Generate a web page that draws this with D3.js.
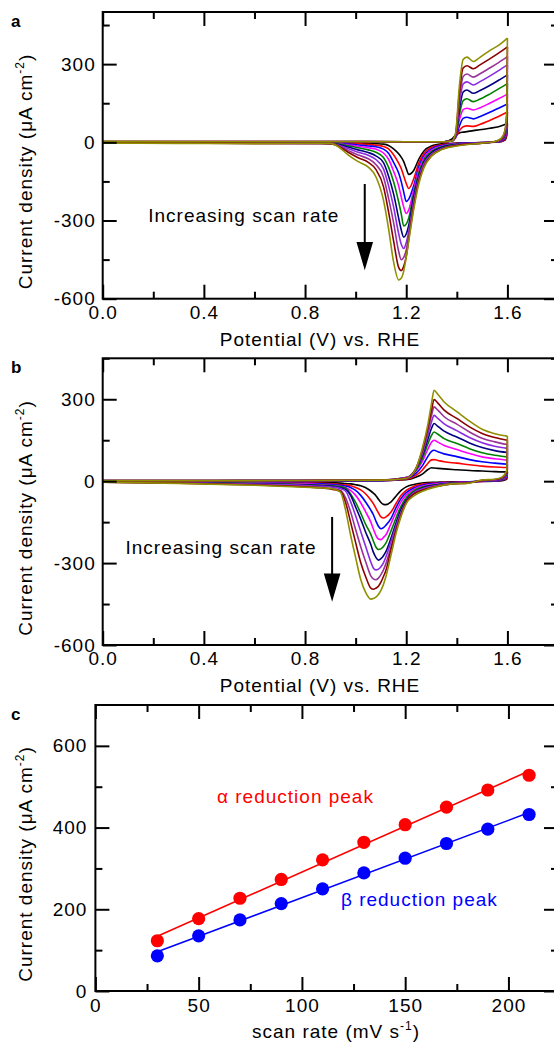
<!DOCTYPE html>
<html>
<head>
<meta charset="utf-8">
<script src="https://cdn.jsdelivr.net/npm/d3@7"></script>
<style>
  body { margin: 0; background: #fff; }
  svg { display: block; font-family: "Liberation Sans", Arial, sans-serif; }
</style>
</head>
<body>
<div id="chart"></div>
<script>
// ---- data ----
const scanRates = [30, 50, 70, 90, 110, 130, 150, 170, 190, 210]; // mV/s
const curveColors = ["#000000", "#ff0000", "#0000ff", "#ff00ff", "#008000",
  "#000080", "#8a2be2", "#993399", "#8b0000", "#8f8f00"];

// panel a : anodic sweep (0 -> 1.6 V)
const potA_anodic = [0.0, 0.3, 0.6, 0.9, 1.2, 1.35, 1.38, 1.395, 1.41, 1.425, 1.44, 1.465, 1.49, 1.53, 1.565, 1.60];
const curA_anodic = [
  [1, 1, 1, 1, 1, 2, 12, 28, 36, 39, 41, 45, 48, 54, 60, 72],
  [1, 1, 1, 1, 1, 2, 6, 18, 45, 60, 63, 61, 68, 84, 99, 116],
  [1, 1, 1, 1, 1, 2, 5, 18, 62, 92, 96, 90, 98, 115, 131, 147],
  [2, 2, 2, 2, 2, 2, 5, 20, 85, 125, 131, 124, 132, 150, 167, 185],
  [2, 2, 2, 2, 2, 2, 5, 22, 105, 160, 167, 156, 165, 185, 205, 225],
  [2, 2, 2, 2, 2, 2, 5, 24, 125, 193, 201, 188, 198, 218, 238, 259],
  [3, 3, 3, 3, 2, 2, 5, 26, 148, 224, 232, 220, 232, 254, 275, 297],
  [3, 3, 3, 3, 2, 2, 5, 28, 165, 252, 262, 250, 262, 285, 306, 329],
  [3, 3, 3, 3, 2, 2, 5, 30, 190, 285, 294, 282, 296, 320, 342, 366],
  [4, 3, 3, 3, 2, 2, 5, 35, 215, 318, 327, 310, 325, 352, 372, 400]
];
// panel a : cathodic sweep (1.6 -> 0 V)
const potA_cathodic = [1.60, 1.598, 1.59, 1.575, 1.55, 1.50, 1.40, 1.34, 1.30, 1.27, 1.25, 1.23, 1.21, 1.20,
  1.19, 1.18, 1.17, 1.15, 1.13, 1.11, 1.08, 1.05, 1.01, 0.97, 0.93, 0.90, 0.6, 0.3, 0.0];
const curA_cathodic = [
  [72, 30, 8, 2, 0, -1, -3, -6, -14, -33, -64, -107, -123, -100, -74, -57, -44, -25, -12, -7, -5, -4, -3, -3, -2, -2, -1, -1, -1],
  [116, 41, 12, 3, 0, -1, -4, -9, -19, -43, -79, -139, -177, -158, -129, -100, -80, -48, -25, -16, -11, -8, -6, -4, -3, -3, -2, -1, -1],
  [147, 52, 16, 4, 1, -1, -5, -12, -25, -52, -94, -165, -218, -227, -190, -150, -118, -77, -42, -26, -17, -14, -10, -7, -4, -3, -2, -2, -1],
  [185, 63, 20, 6, 1, -2, -6, -15, -30, -59, -105, -180, -259, -273, -248, -209, -167, -111, -65, -41, -26, -21, -15, -10, -5, -3, -2, -2, -2],
  [225, 74, 24, 7, 1, -2, -7, -17, -35, -67, -117, -196, -290, -314, -321, -273, -228, -151, -95, -58, -38, -29, -21, -13, -6, -4, -3, -2, -2],
  [259, 86, 29, 8, 2, -2, -9, -20, -40, -75, -126, -206, -318, -352, -364, -335, -291, -198, -129, -78, -52, -39, -29, -18, -8, -4, -3, -2, -2],
  [297, 97, 33, 10, 2, -2, -10, -24, -46, -82, -136, -224, -341, -385, -407, -390, -350, -248, -166, -102, -66, -50, -38, -24, -10, -5, -3, -3, -2],
  [329, 108, 37, 11, 2, -3, -11, -26, -48, -88, -144, -234, -357, -413, -441, -450, -418, -308, -214, -133, -85, -63, -49, -31, -12, -5, -4, -3, -3],
  [366, 119, 41, 13, 3, -3, -12, -27, -51, -93, -148, -245, -371, -438, -476, -492, -480, -378, -266, -170, -104, -77, -59, -38, -14, -5, -4, -3, -3],
  [400, 130, 45, 15, 3, -3, -14, -28, -53, -97, -158, -255, -378, -441, -494, -522, -528, -459, -330, -222, -132, -95, -74, -48, -16, -4, -5, -4, -3]
];

// panel b : anodic sweep
const potB_anodic = [0.0, 0.3, 0.6, 0.9, 1.1, 1.2, 1.24, 1.265, 1.285, 1.30, 1.31, 1.325, 1.35, 1.40, 1.45, 1.50, 1.55, 1.60];
const curB_anodic = [
  [1, 1, 1, 1, 2, 5, 15, 27, 42, 49, 48, 47, 45, 42, 39, 37, 35, 34],
  [1, 1, 1, 1, 2, 7, 22, 42, 65, 78, 79, 76, 71, 66, 60, 55, 52, 50],
  [1, 1, 1, 2, 2, 10, 30, 58, 90, 109, 113, 108, 100, 90, 79, 71, 66, 62],
  [1, 1, 2, 2, 3, 12, 38, 74, 116, 143, 150, 143, 131, 116, 101, 89, 82, 77],
  [1, 1, 2, 2, 3, 12, 42, 85, 135, 168, 180, 172, 156, 138, 119, 104, 95, 89],
  [2, 2, 2, 2, 3, 13, 46, 96, 152, 194, 211, 201, 183, 162, 140, 123, 112, 105],
  [2, 2, 2, 3, 3, 13, 48, 104, 168, 218, 241, 230, 210, 185, 160, 141, 128, 120],
  [2, 2, 2, 3, 4, 13, 50, 113, 183, 241, 272, 260, 236, 209, 180, 157, 144, 134],
  [2, 2, 2, 3, 4, 11, 50, 118, 193, 260, 299, 286, 260, 230, 199, 175, 160, 150],
  [2, 2, 2, 3, 4, 10, 50, 125, 205, 285, 333, 318, 290, 255, 220, 190, 174, 165]
];
// panel b : cathodic sweep
const potB_cathodic = [1.60, 1.598, 1.58, 1.55, 1.50, 1.44, 1.38, 1.32, 1.27, 1.23, 1.20, 1.18, 1.16, 1.14, 1.12,
  1.11, 1.10, 1.09, 1.08, 1.07, 1.06, 1.04, 1.02, 1.00, 0.98, 0.96, 0.94, 0.91, 0.87, 0.80, 0.60, 0.30, 0.00];
const curB_cathodic = [
  [34, 8, 2, 0, -1, -2, -2, -4, -6, -12, -21, -34, -54, -76, -86, -85, -78, -66, -53, -44, -36, -24, -17, -13, -10, -9, -7, -6, -5, -4, -3, -2, -2],
  [50, 12, 4, 1, -1, -3, -4, -6, -10, -19, -34, -52, -81, -113, -131, -135, -131, -116, -99, -82, -69, -47, -32, -23, -17, -14, -12, -10, -8, -6, -4, -3, -2],
  [62, 16, 5, 1, 0, -3, -5, -8, -13, -25, -42, -63, -96, -136, -161, -170, -174, -165, -146, -123, -106, -77, -52, -34, -23, -18, -15, -12, -10, -8, -6, -3, -2],
  [77, 20, 7, 2, 0, -4, -6, -10, -17, -30, -51, -75, -113, -155, -196, -206, -214, -212, -198, -175, -150, -113, -79, -52, -34, -23, -19, -16, -13, -10, -7, -4, -3],
  [89, 24, 8, 3, 1, -5, -7, -12, -20, -35, -61, -90, -134, -182, -226, -239, -248, -250, -241, -219, -195, -159, -117, -78, -47, -25, -20, -17, -15, -12, -8, -5, -3],
  [105, 28, 10, 3, 1, -5, -8, -14, -23, -41, -69, -101, -152, -208, -257, -273, -284, -289, -279, -260, -232, -188, -139, -95, -52, -30, -24, -20, -17, -14, -10, -5, -3],
  [120, 31, 11, 4, 2, -6, -9, -16, -26, -42, -74, -113, -163, -221, -277, -299, -313, -322, -325, -318, -296, -240, -184, -127, -75, -36, -27, -22, -19, -16, -11, -6, -3],
  [134, 34, 13, 5, 2, -6, -10, -17, -29, -45, -79, -123, -177, -241, -301, -325, -342, -355, -361, -358, -347, -296, -240, -177, -112, -60, -34, -28, -23, -19, -12, -7, -4],
  [150, 37, 14, 6, 3, -7, -10, -19, -31, -47, -76, -120, -178, -249, -326, -349, -370, -385, -392, -396, -392, -351, -298, -225, -150, -77, -37, -30, -25, -21, -14, -7, -4],
  [165, 40, 16, 7, 4, -8, -10, -20, -35, -54, -82, -128, -190, -270, -348, -378, -400, -415, -425, -430, -432, -408, -360, -280, -197, -105, -40, -28, -25, -22, -15, -8, -4]
];

// panel c : peak current densities vs scan rate
const alphaPeak = [123, 177, 227, 273, 321, 364, 407, 450, 492, 528];
const betaPeak = [86, 135, 174, 214, 250, 289, 325, 361, 396, 432];

// tick values
const cvXMajor = [0, 0.4, 0.8, 1.2, 1.6];
const cvXMinor = [0.2, 0.6, 1.0, 1.4, 1.8];
const cvYMajor = [-600, -300, 0, 300];
const cvYMinor = [-450, -150, 150, 450];
const cXMajor = [0, 50, 100, 150, 200];
const cXMinor = [25, 75, 125, 175];
const cYMajor = [0, 200, 400, 600];
const cYMinor = [100, 300, 500];

// ---- drawing ----
const width = 554, height = 1043;
const font = "'Liberation Sans', Arial, sans-serif";

const svg = d3.select("#chart").append("svg")
  .attr("width", width)
  .attr("height", height);

svg.append("rect").attr("width", width).attr("height", height).attr("fill", "#fff");

function frameAxes(x, y, box, t) {
  const g = svg.append("g");
  const add = (axis, tr, size, vals, fmt) => {
    const a = g.append("g")
      .attr("transform", tr)
      .call(axis.tickValues(vals).tickSizeInner(size).tickSizeOuter(0)
        .tickPadding(t.pad).tickFormat(fmt || (() => "")));
    a.select(".domain").remove();
    a.selectAll("line").attr("stroke", "#000").attr("stroke-width", 2);
    a.selectAll("text")
      .attr("fill", "#000")
      .attr("font-size", 19)
      .attr("font-family", font)
      .attr("letter-spacing", 1);
  };
  add(d3.axisBottom(x), `translate(0,${box.bottom})`, -14, t.xMajor, t.xFmt);
  add(d3.axisBottom(x), `translate(0,${box.bottom})`, -7, t.xMinor);
  add(d3.axisTop(x), `translate(0,${box.top})`, -14, t.xMajor);
  add(d3.axisTop(x), `translate(0,${box.top})`, -7, t.xMinor);
  add(d3.axisLeft(y), `translate(${box.left},0)`, -14, t.yMajor, t.yFmt);
  add(d3.axisLeft(y), `translate(${box.left},0)`, -7, t.yMinor);
  add(d3.axisRight(y), `translate(${box.right},0)`, -14, t.yMajor);
  add(d3.axisRight(y), `translate(${box.right},0)`, -7, t.yMinor);

  g.append("rect")
    .attr("x", box.left).attr("y", box.top)
    .attr("width", box.right - box.left).attr("height", box.bottom - box.top)
    .attr("fill", "none").attr("stroke", "#000").attr("stroke-width", 2);
}

function titles(box, letter, letterY, xTitle, xSup, yCenter) {
  svg.append("text")
    .attr("x", 11).attr("y", letterY)
    .attr("font-size", 17).attr("font-weight", "bold").attr("font-family", font)
    .text(letter);

  const xt = svg.append("text")
    .attr("x", (box.xc)).attr("y", box.bottom + 47)
    .attr("text-anchor", "middle")
    .attr("font-size", 19).attr("font-family", font).attr("letter-spacing", 1);
  if (xSup) {
    xt.append("tspan").text(xTitle);
    xt.append("tspan").attr("font-size", 12).attr("dy", -8).text(xSup);
    xt.append("tspan").attr("dy", 8).text(")");
  } else {
    xt.text(xTitle);
  }

  const yt = svg.append("text")
    .attr("transform", `translate(32,${yCenter}) rotate(-90)`)
    .attr("text-anchor", "middle")
    .attr("font-size", 19).attr("font-family", font).attr("letter-spacing", 1);
  yt.append("tspan").text("Current density (\u03bcA cm");
  yt.append("tspan").attr("font-size", 12).attr("dy", -8).text("-2");
  yt.append("tspan").attr("dy", 8).text(")");
}

function cvPanel(box, yDomain, potAn, curAn, potCa, curCa, note) {
  const x = d3.scaleLinear().domain([0, 1.8]).range([box.left, box.right]);
  const y = d3.scaleLinear().domain(yDomain).range([box.bottom, box.top]);

  const line = d3.line()
    .x(d => x(d[0]))
    .y(d => y(d[1]))
    .curve(d3.curveMonotoneX);

  const g = svg.append("g").attr("fill", "none").attr("stroke-width", 1.6)
    .attr("stroke-linejoin", "round");
  scanRates.forEach((r, i) => {
    const an = potAn.map((v, j) => [v, curAn[i][j]]);
    const ca = potCa.map((v, j) => [v, curCa[i][j]]).reverse();
    g.append("path").attr("d", line(an)).attr("stroke", curveColors[i]);
    g.append("path").attr("d", line(ca)).attr("stroke", curveColors[i]);
  });

  // annotation
  svg.append("text")
    .attr("x", x(note.tx)).attr("y", y(note.ty))
    .attr("font-size", 19).attr("font-family", font).attr("letter-spacing", 1)
    .text("Increasing scan rate");
  const ax = x(note.ax);
  svg.append("line")
    .attr("x1", ax).attr("x2", ax)
    .attr("y1", y(note.a0)).attr("y2", y(note.a1) + 2)
    .attr("stroke", "#000").attr("stroke-width", 2);
  svg.append("path")
    .attr("d", `M${ax - 8.3},${y(note.a1)} L${ax + 8.3},${y(note.a1)} L${ax},${y(note.a2)} Z`)
    .attr("fill", "#000");

  frameAxes(x, y, box, {
    xMajor: cvXMajor, xMinor: cvXMinor, yMajor: cvYMajor, yMinor: cvYMinor,
    xFmt: d3.format(".1f"), yFmt: d => String(d), pad: 7
  });
}

// panel a
const boxA = { left: 102.7, right: 558, top: 12, bottom: 298.7, xc: 320 };
cvPanel(boxA, [-600, 500], potA_anodic, curA_anodic, potA_cathodic, curA_cathodic,
  { tx: 0.18, ty: -305, ax: 1.036, a0: -160, a1: -382, a2: -491 });
titles(boxA, "a", 27, "Potential (V) vs. RHE", null, 171.5);

// panel b
const boxB = { left: 102.7, right: 558, top: 358.3, bottom: 645, xc: 320 };
cvPanel(boxB, [-600, 450], potB_anodic, curB_anodic, potB_cathodic, curB_cathodic,
  { tx: 0.09, ty: -265, ax: 0.907, a0: -131, a1: -338, a2: -442 });
titles(boxB, "b", 373, "Potential (V) vs. RHE", null, 518);

// panel c
const boxC = { left: 95.4, right: 558, top: 705, bottom: 991, xc: 336 };
const xc = d3.scaleLinear().domain([0, 224]).range([boxC.left, boxC.right]);
const yc = d3.scaleLinear().domain([0, 700]).range([boxC.bottom, boxC.top]);

function linFit(xs, ys) {
  const mx = d3.mean(xs), my = d3.mean(ys);
  const b = d3.sum(xs, (v, i) => (v - mx) * (ys[i] - my)) / d3.sum(xs, v => (v - mx) * (v - mx));
  return v => my + b * (v - mx);
}

[[alphaPeak, "#ff0000"], [betaPeak, "#0000ff"]].forEach(([vals, col]) => {
  const f = linFit(scanRates, vals);
  const ends = d3.extent(scanRates);
  svg.append("line")
    .attr("x1", xc(ends[0])).attr("y1", yc(f(ends[0])))
    .attr("x2", xc(ends[1])).attr("y2", yc(f(ends[1])))
    .attr("stroke", col).attr("stroke-width", 1.6);
  svg.append("g").selectAll("circle")
    .data(vals)
    .join("circle")
    .attr("cx", (d, i) => xc(scanRates[i]))
    .attr("cy", d => yc(d))
    .attr("r", 6.6)
    .attr("fill", col);
});

svg.append("text")
  .attr("x", xc(58.9)).attr("y", yc(461))
  .attr("font-size", 19).attr("font-family", font).attr("letter-spacing", 1)
  .attr("fill", "#ff0000")
  .text("\u03b1 reduction peak");
svg.append("text")
  .attr("x", xc(118.9)).attr("y", yc(208))
  .attr("font-size", 19).attr("font-family", font).attr("letter-spacing", 1)
  .attr("fill", "#0000ff")
  .text("\u03b2 reduction peak");

frameAxes(xc, yc, boxC, {
  xMajor: cXMajor, xMinor: cXMinor, yMajor: cYMajor, yMinor: cYMinor,
  xFmt: d => String(d), yFmt: d => String(d), pad: 8
});
titles(boxC, "c", 720, "scan rate (mV s", "-1", 864);
</script>
</body>
</html>
